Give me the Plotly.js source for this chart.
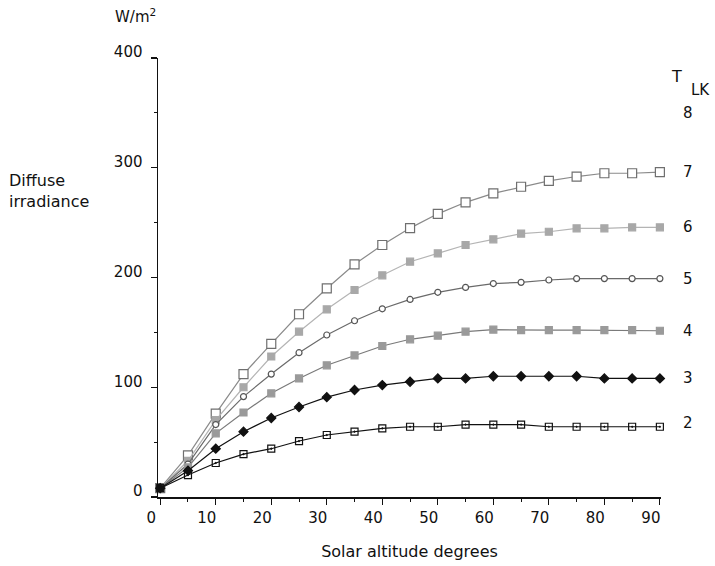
<!DOCTYPE html>
<html>
<head>
<meta charset="utf-8">
<script src="https://cdn.plot.ly/plotly-3.0.1.min.js"></script>
<style>html,body{margin:0;padding:0;background:#fff;}#chart{width:715px;height:566px;}</style>
</head>
<body>
<div id="chart"></div>
<script>
// Solar altitude (degrees)
var altitude = [0,5,10,15,20,25,30,35,40,45,50,55,60,65,70,75,80,85,90];
// Diffuse irradiance (W/m2) per Linke turbidity T_LK
var tlk2 = [8,20,31,39,44,51,56.5,59.5,62.5,64,64,66,66,66,64,64,64,64,64];
var tlk3 = [8,24,44,59.5,72,82,91,97.5,102,105,108,108,110,110,110,110,108,108,108];
var tlk4 = [8,27,58,77,94.5,108,120,129,137.6,143.7,147,150.6,152.5,152,152,152,152,152,151.5];
var tlk5 = [8,30,66,91.5,112,131.5,147.6,160.6,171.5,180,186.5,191,194.5,195.6,197.7,199,199,199,199];
var tlk6 = [8,33,70,100,128,150.6,171,188.6,202,214.4,222,229.6,234.8,240,241.7,244.8,244.8,245.7,245.7];
var tlk7 = [8,38,76,112,139.5,166.5,190,212,229.6,245,258,268.5,276.7,282.7,288,292,295,295,296];
var seriesNames = ['2','3','4','5','6','7'];
var xTicks = [0,10,20,30,40,50,60,70,80,90];
var yTicks = [0,100,200,300,400];

var font = 'DejaVu Sans, Liberation Sans, Arial, sans-serif';
var txt = '#111111';

function tr(y, name, lineColor, symbol, mColor, mLine, size) {
  return {
    x: altitude, y: y, name: name, type: 'scatter', mode: 'lines+markers',
    cliponaxis: false,
    line: {color: lineColor, width: 1.2},
    marker: {symbol: symbol, size: size, color: mColor, line: {color: mLine, width: 1.2}}
  };
}

var data = [
  tr(tlk7, '7', '#8a8a8a', 'square', '#ffffff', '#6f6f6f', 9),
  tr(tlk6, '6', '#b4b4b4', 'square', '#a8a8a8', '#a8a8a8', 7),
  tr(tlk5, '5', '#6a6a6a', 'circle', '#ffffff', '#555555', 6),
  tr(tlk4, '4', '#7a7a7a', 'square', '#9a9a9a', '#9a9a9a', 7),
  tr(tlk3, '3', '#111111', 'diamond', '#111111', '#111111', 7),
  tr(tlk2, '2', '#111111', 'square-open-dot', '#111111', '#111111', 7)
];

var lastVals = [tlk2, tlk3, tlk4, tlk5, tlk6, tlk7].map(function(a){return a[a.length-1];});
var annotations = seriesNames.map(function(n, i){
  return {x: 90, y: lastVals[i], xref: 'x', yref: 'y', text: n, showarrow: false,
          xanchor: 'center', xshift: 28, yshift: (i===0 ? 4 : 0), font: {family: font, size: 15, color: txt}};
});
annotations.push({x: 90, y: 350, xref: 'x', yref: 'y', text: '8', showarrow: false, xanchor: 'center', xshift: 28, font: {family: font, size: 15, color: txt}});
annotations.push({x: 90, y: 383, xref: 'x', yref: 'y', text: 'T', showarrow: false, xanchor: 'center', xshift: 17, font: {family: font, size: 16, color: txt}});
annotations.push({x: 90, y: 371, xref: 'x', yref: 'y', text: 'LK', showarrow: false, xanchor: 'center', xshift: 41, font: {family: font, size: 15, color: txt}});
annotations.push({x: 113, y: 16, xref: 'paper', yref: 'paper', text: 'W/m<sup>2</sup>', showarrow: false, font: {family: font, size: 15, color: txt}});
annotations.push({x: 7, y: 191, xref: 'paper', yref: 'paper', text: 'Diffuse<br>irradiance', showarrow: false, xanchor: 'left', align: 'left', font: {family: font, size: 16, color: txt}});

// convert pixel-positioned paper annotations
var W = 715, H = 566, ml = 158, mr = 54, mt = 58, mb = 69;
annotations.forEach(function(a){
  if (a.xref === 'paper') {
    a.x = (a.x - ml) / (W - ml - mr);
    a.y = 1 - (a.y - mt) / (H - mt - mb);
    a.yanchor = 'middle';
  }
});

var layout = {
  width: W, height: H,
  margin: {l: ml, r: mr, t: mt, b: mb},
  paper_bgcolor: '#ffffff', plot_bgcolor: '#ffffff',
  showlegend: false,
  font: {family: font, size: 14, color: txt},
  xaxis: {
    range: [-0.4, 90.2], tickvals: xTicks, ticktext: xTicks.map(String),
    showgrid: false, zeroline: false, showline: true, linecolor: '#111', linewidth: 1.5,
    ticks: 'outside', ticklen: 6, tickwidth: 1.2, tickcolor: '#111',
    ticklabelshift: -9,
    minor: {dtick: 5, ticks: 'outside', ticklen: 3, tickcolor: '#111', tickwidth: 1},
    tickfont: {family: font, size: 15, color: txt},
    title: {text: 'Solar altitude degrees', standoff: 20, font: {family: font, size: 16, color: txt}}
  },
  yaxis: {
    range: [0, 400], tickvals: yTicks, ticktext: yTicks.map(String),
    showgrid: false, zeroline: false, showline: true, linecolor: '#111', linewidth: 1.5,
    ticks: 'outside', ticklen: 6, tickwidth: 1.2, tickcolor: '#111',
    ticklabelstandoff: 5, ticklabelshift: -6,
    minor: {dtick: 50, ticks: 'outside', ticklen: 3, tickcolor: '#111', tickwidth: 1},
    tickfont: {family: font, size: 15, color: txt}
  },
  annotations: annotations
};

Plotly.newPlot('chart', data, layout, {displayModeBar: false, staticPlot: true});
</script>
</body>
</html>
